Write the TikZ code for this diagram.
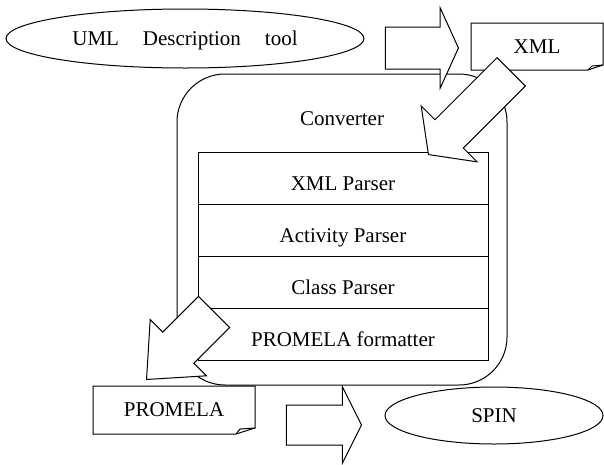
\documentclass[tikz,border=0pt]{standalone}
\usepackage{fontspec}
\setmainfont{Liberation Serif}
\usetikzlibrary{positioning,shapes.geometric,shapes.arrows}
\tikzstyle{toolnode} =[
    draw,
    ellipse,
    inner sep=0pt,
    text depth=0pt
    ]
\tikzstyle{docnode} = [
    rectangle,
    inner sep=0pt,
    outer sep=0pt,
    text depth=0pt
    ]
\tikzstyle{converterbox} = [
    draw,
    rectangle,
    rounded corners=48pt,
    minimum width=330pt,
    minimum height=311pt
    ]
\tikzstyle{parserrow} = [
    draw,
    rectangle,
    inner sep=0pt,
    outer sep=0pt,
    minimum width=290pt,
    minimum height=52pt,
    text height=27pt,
    text depth=2pt
    ]
\tikzstyle{fatarrow} = [
    draw,
    fill=white,
    single arrow,
    inner xsep=0pt,
    anchor=tip
    ]

\begin{document}
\begin{tikzpicture}[x=1pt, y=-1pt, line width=1pt, font=\fontsize{21}{25}\selectfont]
\useasboundingbox (0,0) rectangle (604,464);
% converter and its parts
\node [converterbox] (conv) at (342,229.5) {};
\node [text depth=0pt] (convlabel) at (342,119) {Converter};
\node [parserrow] (xmlp) at (343,178) {XML Parser};
\node [parserrow, below=0pt of xmlp] (actp) {Activity Parser};
\node [parserrow, below=0pt of actp] (classp) {Class Parser};
\node [parserrow, below=0pt of classp] (fmt) {PROMELA formatter};

% tools
\node [toolnode, minimum width=358pt, minimum height=59pt] (uml) at (185,38.5) {UML\hspace{24pt}Description\hspace{24pt}tool};
\node [toolnode, minimum width=218pt, minimum height=57pt] (spin) at (494,415.5) {SPIN};

% documents with a folded corner
\node [docnode, minimum width=132pt, minimum height=47pt] (xml) at (537,46.5) {XML};
\node [docnode, minimum width=162pt, minimum height=48pt] (promela) at (174,410) {PROMELA};
\foreach \d/\cx/\cy in {xml/15/5, promela/19/6}{
    \draw (\d.north west) -- (\d.north east) -- ([yshift=\cy pt]\d.south east)
        -- ([xshift=-\cx pt]\d.south east) -- (\d.south west) -- cycle;
    \draw ([xshift=-\cx pt]\d.south east) -- ([xshift=-\cx pt+4pt, yshift=\cy pt-1pt]\d.south east)
        -- ([yshift=\cy pt]\d.south east);
}

% block arrows
\node [fatarrow, minimum height=73pt, inner ysep=20.5pt, single arrow head extend=19pt,
    single arrow tip angle=131] (umlarrow) at (459,48) {};
\node [fatarrow, rotate=225, minimum height=117pt, inner ysep=19.5pt, single arrow head extend=19.5pt,
    single arrow tip angle=107] (xmlarrow) at (428,155) {};
\node [fatarrow, rotate=225, minimum height=95.5pt, inner ysep=21.5pt, single arrow head extend=17.75pt,
    single arrow tip angle=83] (outarrow) at (146,380) {};
\node [fatarrow, minimum height=75pt, inner ysep=19.5pt, single arrow head extend=18.5pt,
    single arrow tip angle=127] (spinarrow) at (362,425) {};
\end{tikzpicture}
\end{document}
